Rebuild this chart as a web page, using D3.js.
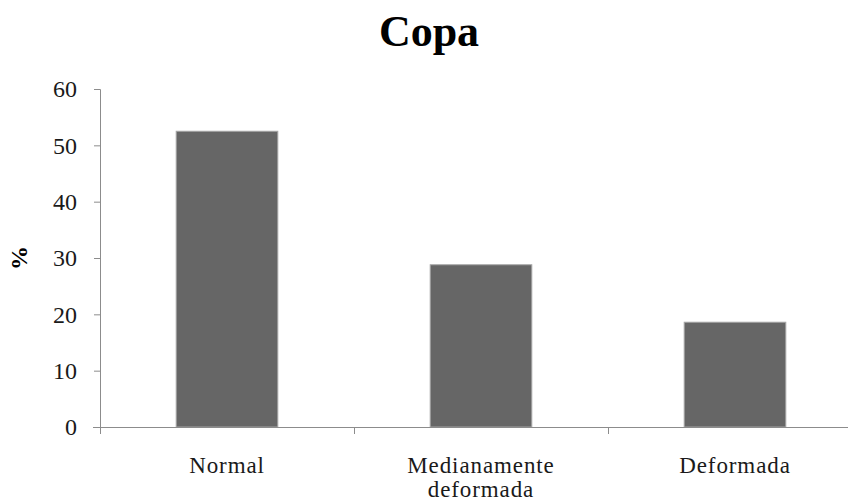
<!DOCTYPE html>
<html>
<head>
<meta charset="utf-8">
<script src="https://cdn.jsdelivr.net/npm/d3@7"></script>
<style>
  body { margin: 0; background: #fff; }
  text { font-family: "Liberation Serif", "Times New Roman", serif; }
</style>
</head>
<body>
<div id="chart"></div>
<script>
var categories = [["Normal"], ["Medianamente", "deformada"], ["Deformada"]];
var values = [52.5, 28.8, 18.6];
var yTicks = [0, 10, 20, 30, 40, 50, 60];

var W = 848, H = 504;
var margin = {top: 89, left: 100, bottom: 77},
    plotW = 762,
    plotH = H - margin.top - margin.bottom;

var svg = d3.select("#chart").append("svg")
    .attr("width", W)
    .attr("height", H);

var g = svg.append("g")
    .attr("transform", "translate(" + margin.left + "," + margin.top + ")");

var x = d3.scaleBand()
    .domain(d3.range(categories.length))
    .range([0, plotW])
    .paddingInner(0.6)
    .paddingOuter(0.3);

var y = d3.scaleLinear().domain([0, 60]).range([plotH, 0]);

// bars
g.selectAll("rect.bar")
  .data(values)
  .enter().append("rect")
    .attr("class", "bar")
    .attr("x", function(d, i) { return x(i) })
    .attr("y", function(d) { return y(d) })
    .attr("width", x.bandwidth())
    .attr("height", function(d) { return plotH - y(d) })
    .attr("fill", "#666666")
    .attr("stroke", "#a6a6a6")
    .attr("stroke-width", 1);

// y axis
var yAxis = g.append("g")
    .call(d3.axisLeft(y).tickValues(yTicks).tickSize(6).tickPadding(17));
yAxis.selectAll("line, path").attr("stroke", "#8c8c8c");
yAxis.select(".domain").attr("d", "M0.5," + plotH + "V0.5H-6");
yAxis.selectAll("text")
    .attr("font-size", 24)
    .attr("fill", "#1a1a1a")
    .style("font-family", "Liberation Serif, serif");

// x axis: line with category boundary ticks
var xAx = g.append("g").attr("transform", "translate(0," + plotH + ")");
xAx.append("line")
    .attr("x1", -7).attr("x2", plotW)
    .attr("y1", 0.5).attr("y2", 0.5)
    .attr("stroke", "#8c8c8c");
xAx.selectAll("line.tk")
  .data(d3.range(categories.length + 1))
  .enter().append("line")
    .attr("class", "tk")
    .attr("x1", function(d) { return d * plotW / categories.length + 0.5 })
    .attr("x2", function(d) { return d * plotW / categories.length + 0.5 })
    .attr("y1", 0).attr("y2", 7)
    .attr("stroke", "#8c8c8c");

xAx.selectAll("text.cat")
  .data(categories)
  .enter().append("text")
    .attr("class", "cat")
    .attr("text-anchor", "middle")
    .attr("font-size", 23)
    .attr("letter-spacing", 0.9)
    .attr("fill", "#1a1a1a")
    .attr("transform", function(d, i) { return "translate(" + (x(i) + x.bandwidth() / 2) + ",46)" })
    .each(function(d) {
      var t = d3.select(this);
      d.forEach(function(line, k) {
        t.append("tspan").attr("x", 0).attr("dy", k ? 24 : 0).text(line);
      });
    });

// title
svg.append("text")
    .attr("x", 429)
    .attr("y", 46)
    .attr("text-anchor", "middle")
    .attr("font-size", 44)
    .attr("font-weight", "bold")
    .text("Copa");

// y label
svg.append("text")
    .attr("transform", "translate(27," + (margin.top + y(30)) + ") rotate(-90)")
    .attr("text-anchor", "middle")
    .attr("font-size", 24)
    .attr("font-weight", "bold")
    .text("%");
</script>
</body>
</html>
